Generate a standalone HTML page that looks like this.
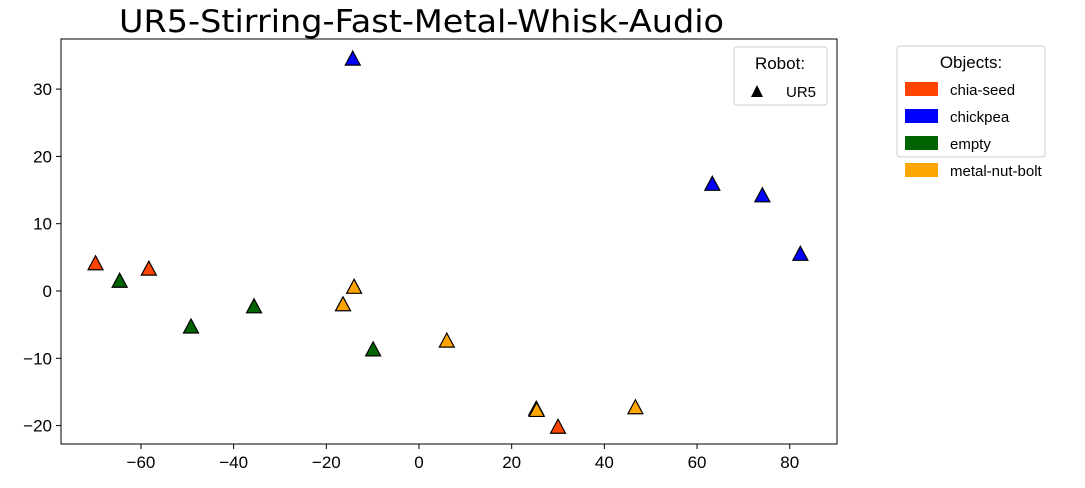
<!DOCTYPE html>
<html><head><meta charset="utf-8"><style>
body{margin:0;background:#fff;font-family:"Liberation Sans","DejaVu Sans",sans-serif}
svg text{font-family:"Liberation Sans","DejaVu Sans",sans-serif}
</style></head><body>
<svg id="c" width="1085" height="483" xmlns="http://www.w3.org/2000/svg"></svg>
<script>
const categories=["chia-seed","chickpea","empty","metal-nut-bolt"];
const colors=["#ff4500","#0000ff","#006400","#ffa500"];
const xChia=[-69.8,-58.3,30.0];
const yChia=[4.2,3.4,-20.1];
const xChickpea=[-14.3,63.3,74.1,82.3];
const yChickpea=[34.6,16.0,14.3,5.6];
const xEmpty=[-64.6,-49.2,-35.6,-9.9];
const yEmpty=[1.6,-5.2,-2.2,-8.6];
const xMetal=[-16.4,-14.0,6.0,25.3,25.4,46.7];
const yMetal=[-1.9,0.7,-7.3,-17.4,-17.6,-17.2];
const xTicks=[-60,-40,-20,0,20,40,60,80];
const yTicks=[-20,-10,0,10,20,30];
const L=61,R=837,T=39,B=444;
const X=v=>419+v*4.634, Y=v=>291-v*6.73;
const s=document.getElementById('c');const NS="http://www.w3.org/2000/svg";
function mk(t,a,p){const e=document.createElementNS(NS,t);for(const k in a)e.setAttribute(k,a[k]);(p||s).appendChild(e);return e;}
let t=mk('text',{x:119,y:32,'font-size':31,textLength:605,lengthAdjust:'spacingAndGlyphs',style:'font-family:"DejaVu Sans",sans-serif'});t.textContent="UR5-Stirring-Fast-Metal-Whisk-Audio";


const fr=mk('rect',{x:L,y:T,width:R-L,height:B-T,fill:'none',stroke:'#000','stroke-width':1});


xTicks.forEach(v=>{const x=X(v);mk('line',{x1:x,x2:x,y1:B,y2:B+5,stroke:'#000'});const e=mk('text',{x:x,y:B+24,'font-size':17,'text-anchor':'middle'});e.textContent=v<0?'\u2212'+(-v):v;

});
yTicks.forEach(v=>{const y=Y(v);mk('line',{x1:L-5,x2:L,y1:y,y2:y,stroke:'#000'});const e=mk('text',{x:L-9,y:y+6,'font-size':17,'text-anchor':'end'});e.textContent=v<0?'\u2212'+(-v):v;

});
function tri(cx,cy,c){cy+=2;return mk('polygon',{points:`${cx},${cy-9} ${cx-7.5},${cy+5} ${cx+7.5},${cy+5}`,fill:c,stroke:'#000','stroke-width':1.2});}
[[xChia,yChia],[xChickpea,yChickpea],[xEmpty,yEmpty],[xMetal,yMetal]].forEach((d,i)=>{d[0].forEach((xv,j)=>{const p=tri(X(xv),Y(d[1][j]),colors[i]);

});});
const lg1=mk('rect',{x:734,y:47,width:93,height:58,rx:3,fill:'#fff',stroke:'#ccc'});


t=mk('text',{x:780,y:69,'font-size':17,'text-anchor':'middle'});t.textContent="Robot:";
mk('polygon',{points:"757,85 751,97 763,97",fill:'#000'});
t=mk('text',{x:786,y:97,'font-size':15});t.textContent="UR5";
const lg2=mk('rect',{x:897,y:46,width:148,height:111,rx:3,fill:'#fff',stroke:'#ccc'});


t=mk('text',{x:971,y:68,'font-size':17,'text-anchor':'middle'});t.textContent="Objects:";
categories.forEach((c,i)=>{const y=82+i*27;mk('rect',{x:905,y:y,width:33,height:14,fill:colors[i]});const e=mk('text',{x:950,y:y+13,'font-size':15});e.textContent=c;

});
</script>
</body></html>
